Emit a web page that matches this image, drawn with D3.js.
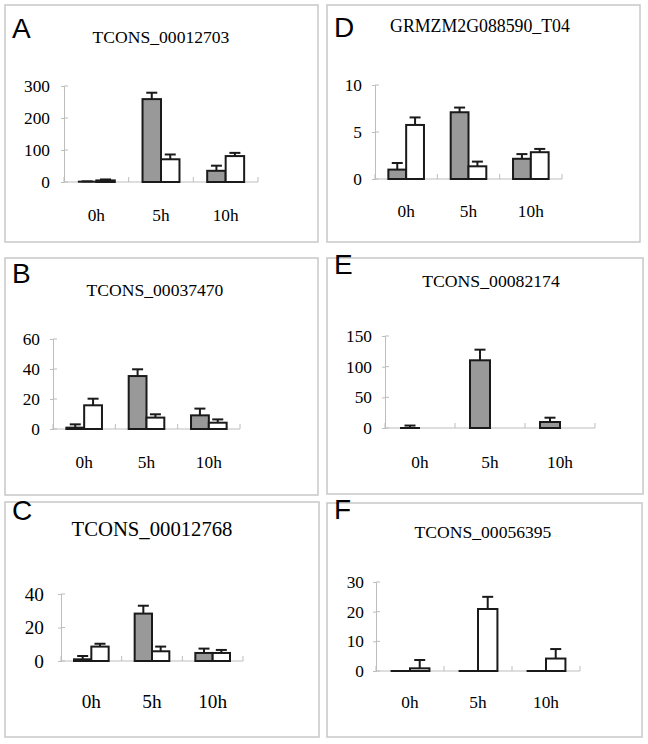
<!DOCTYPE html>
<html><head><meta charset="utf-8">
<script src="https://cdn.jsdelivr.net/npm/d3@7"></script>
<style>html,body{margin:0;padding:0;background:#fff;}svg{display:block;}
.serif{font-family:"Liberation Serif","Times New Roman",Times,"DejaVu Serif",serif;}
.sans{font-family:"Liberation Sans",Arial,Helvetica,sans-serif;}
</style>
</head><body>
<svg id="chart" width="648" height="744"></svg>
<script>
// ---- data ----
const categories = ["0h", "5h", "10h"];
const panelLetters = ["A", "B", "C", "D", "E", "F"];
const panelTitles = ["TCONS_00012703", "TCONS_00037470", "TCONS_00012768", "GRMZM2G088590_T04", "TCONS_00082174", "TCONS_00056395"];

const grayA = [1, 259, 35],   grayErrA = [1, 20, 16];
const whiteA = [5, 71, 81],   whiteErrA = [3, 15, 10];
const grayB = [0.9, 35.3, 9.1], grayErrB = [2.2, 4.5, 4.5];
const whiteB = [15.8, 7.6, 4.2], whiteErrB = [4.4, 2.2, 2.2];
const grayC = [1.0, 28.3, 4.8], grayErrC = [2.0, 4.7, 2.6];
const whiteC = [8.6, 5.8, 4.8], whiteErrC = [1.7, 2.8, 1.8];
const grayD = [1.0, 7.1, 2.15], grayErrD = [0.7, 0.5, 0.5];
const whiteD = [5.75, 1.35, 2.85], whiteErrD = [0.8, 0.5, 0.35];
const grayE = [0, 110.4, 9.8], grayErrE = [4, 17.3, 7];
const whiteE = [null, null, null], whiteErrE = [null, null, null];
const grayF = [0, 0, 0], grayErrF = [0, 0, 0];
const whiteF = [0.9, 20.9, 4.2], whiteErrF = [2.8, 4.1, 3.2];

const yTicksA = [0, 100, 200, 300];
const yTicksB = [0, 20, 40, 60];
const yTicksC = [0, 20, 40];
const yTicksD = [0, 5, 10];
const yTicksE = [0, 50, 100, 150];
const yTicksF = [0, 10, 20, 30];

const seriesGray = [grayA, grayB, grayC, grayD, grayE, grayF];
const seriesGrayErr = [grayErrA, grayErrB, grayErrC, grayErrD, grayErrE, grayErrF];
const seriesWhite = [whiteA, whiteB, whiteC, whiteD, whiteE, whiteF];
const seriesWhiteErr = [whiteErrA, whiteErrB, whiteErrC, whiteErrD, whiteErrE, whiteErrF];
const yTicks = [yTicksA, yTicksB, yTicksC, yTicksD, yTicksE, yTicksF];

// ---- layout (positions only) ----
const layout = [
  {box:[5,5,318,242],   ax:64,  y0:182, yTop:86,  right:258, tx:161, ty:43,  ts:17.6, lx:12,  ly:38,  xly:221, fs:17.3, pad:11},
  {box:[5,258,318,495], ax:53,  y0:429, yTop:339, right:240, tx:155, ty:296, ts:17.6, lx:12,  ly:283, xly:468, fs:17.3, pad:10},
  {box:[5,502,319,737], ax:61,  y0:661, yTop:594, right:243, tx:152, ty:536, ts:20.7, lx:12,  ly:520, xly:708, fs:19.3, pad:14},
  {box:[327,5,640,242], ax:375, y0:179, yTop:85,  right:562, tx:480, ty:32,  ts:17.8, lx:334, ly:37,  xly:217, fs:17.3, pad:10},
  {box:[327,258,643,494], ax:385, y0:428, yTop:336, right:595, tx:491, ty:287, ts:17.7, lx:334, ly:274, xly:468, fs:17.3, pad:10},
  {box:[327,503,642,737], ax:376, y0:671, yTop:582, right:580, tx:483, ty:538, ts:17.6, lx:334, ly:519, xly:708, fs:17.3, pad:9}
];

const svg = d3.select("#chart");
const axisColor = "#bdbdbd";
const ink = "#1a1a1a";

layout.forEach((L, i) => {
  const g = svg.append("g");
  // panel frame
  g.append("rect").attr("x", L.box[0]).attr("y", L.box[1])
    .attr("width", L.box[2]-L.box[0]).attr("height", L.box[3]-L.box[1])
    .attr("fill", "none").attr("stroke", "#c8c8c8").attr("stroke-width", 1.5);
  // letter
  g.append("text").attr("class", "sans").attr("x", L.lx).attr("y", L.ly).text(panelLetters[i])
    .style("font-size", "28px").attr("fill", "#000");
  // title
  g.append("text").attr("class", "serif").attr("x", L.tx).attr("y", L.ty).attr("text-anchor", "middle")
    .text(panelTitles[i]).style("font-size", L.ts + "px").attr("fill", "#000");

  const ticks = yTicks[i];
  const y = d3.scaleLinear().domain([0, d3.max(ticks)]).range([L.y0, L.yTop]);
  const x = d3.scaleBand().domain(categories).range([L.ax, L.right]).padding(0);
  const bw = x.bandwidth() / 3.5;

  // y axis
  const yAxis = d3.axisLeft(y).tickValues(ticks).tickSize(3).tickPadding(L.pad).tickFormat(d3.format("d"));
  const ya = g.append("g").attr("transform", `translate(${L.ax},0)`).call(yAxis);
  ya.attr("font-family", null).attr("font-size", null);
  ya.select(".domain").attr("stroke", axisColor).attr("stroke-width", 1);
  ya.selectAll(".tick line").attr("stroke", axisColor);
  ya.selectAll(".tick text").attr("class", "serif").style("font-size", L.fs + "px").attr("fill", "#000");
  // inside tick part
  g.selectAll(".tin").data(ticks).enter().append("line")
    .attr("x1", L.ax).attr("x2", L.ax + 4).attr("y1", d => y(d)).attr("y2", d => y(d))
    .attr("stroke", axisColor);

  // x axis baseline + dividers
  g.append("line").attr("x1", L.ax).attr("x2", L.right).attr("y1", y(0)).attr("y2", y(0))
    .attr("stroke", axisColor);
  const bounds = categories.map(c => x(c) + x.bandwidth()).concat([L.ax]);
  g.selectAll(".div").data(bounds).enter().append("line")
    .attr("x1", d => d).attr("x2", d => d).attr("y1", y(0)).attr("y2", y(0) - 5)
    .attr("stroke", axisColor);
  // x labels
  g.selectAll(".xl").data(categories).enter().append("text").attr("class", "serif")
    .attr("x", d => x(d) + x.bandwidth()/2).attr("y", L.xly).attr("text-anchor", "middle")
    .text(d => d).style("font-size", L.fs + "px").attr("fill", "#000");

  const series = [
    {vals: seriesGray[i], errs: seriesGrayErr[i], fill: "#999999", off: -1},
    {vals: seriesWhite[i], errs: seriesWhiteErr[i], fill: "#ffffff", off: 0}
  ];
  series.forEach(s => {
    categories.forEach((c, k) => {
      const v = s.vals[k];
      if (v === null || v === undefined) return;
      const cx = x(c) + x.bandwidth()/2;
      const bx = cx + s.off * bw;
      const e = s.errs[k];
      const mid = bx + bw/2;
      if (e) {
        g.append("line").attr("x1", mid).attr("x2", mid).attr("y1", y(v)).attr("y2", y(v + e))
          .attr("stroke", ink).attr("stroke-width", 2);
        g.append("line").attr("x1", mid - 5.5).attr("x2", mid + 5.5).attr("y1", y(v + e)).attr("y2", y(v + e))
          .attr("stroke", ink).attr("stroke-width", 2);
      }
      const h = y(0) - y(v);
      if (h < 1) {
        g.append("line").attr("x1", bx).attr("x2", bx + bw).attr("y1", y(v)).attr("y2", y(v))
          .attr("stroke", ink).attr("stroke-width", 2);
      } else {
        g.append("rect").attr("x", bx).attr("y", y(v)).attr("width", bw).attr("height", h)
          .attr("fill", s.fill).attr("stroke", ink).attr("stroke-width", 2);
      }
    });
  });
});
</script>
</body></html>
